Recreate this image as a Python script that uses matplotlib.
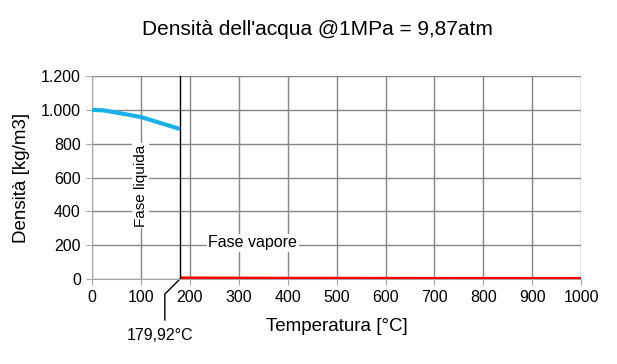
import matplotlib
matplotlib.use("Agg")
import matplotlib.pyplot as plt
from matplotlib.ticker import FuncFormatter

plt.rcParams["font.family"] = ["Liberation Sans", "DejaVu Sans"]

# liquid phase (kg/m3)
liq_t = [0, 25, 100, 179.92]
liq_rho = [1000.0, 997.0, 958.0, 887.0]

# vapour phase (kg/m3)
vap_t = [179.92, 200, 300, 400, 500, 600, 700, 800, 900, 1000]
vap_rho = [5.16, 4.85, 3.88, 3.26, 2.83, 2.50, 2.24, 2.03, 1.86, 1.71]

t_sat = 179.92
x_ticks = list(range(0, 1001, 100))
y_ticks = list(range(0, 1201, 200))

fig = plt.figure(figsize=(6.17, 3.64), dpi=100)
ax = fig.add_axes([0.149, 0.2335, 0.793, 0.5575])

ax.plot(liq_t, liq_rho, color="#1bb0ea", linewidth=3, solid_capstyle="butt", zorder=3)
ax.plot(vap_t, vap_rho, color="#ff0000", linewidth=2.5, solid_capstyle="butt", zorder=3)
ax.plot([t_sat, t_sat], [0, 1200], color="black", linewidth=1, zorder=4)

ax.set_xlim(0, 1000)
ax.set_ylim(0, 1200)
ax.set_xticks(x_ticks)
ax.set_yticks(y_ticks)
ax.yaxis.set_major_formatter(FuncFormatter(lambda v, p: f"{int(v):,}".replace(",", ".")))
ax.grid(True, color="#868686", linewidth=1, zorder=1)
ax.set_axisbelow(True)
for side in ("top", "right"):
    ax.spines[side].set_visible(False)
for side in ("left", "bottom"):
    ax.spines[side].set_color("#a6a6a6")
ax.tick_params(axis="both", length=4, color="#a6a6a6", labelsize=11.5, pad=4)

ax.set_xlabel("Temperatura [°C]", fontsize=13.5, labelpad=9)
ax.set_ylabel("Densità [kg/m3]", fontsize=13.5, labelpad=8)
fig.suptitle("Densità dell'acqua @1MPa = 9,87atm", fontsize=15, x=0.514, y=0.945)

ax.text(100, 550, "Fase liquida", rotation=90, ha="center", va="center", fontsize=11,
        bbox=dict(facecolor="white", edgecolor="none", pad=1), zorder=5)
ax.text(329, 213, "Fase vapore", ha="center", va="center", fontsize=11.5,
        bbox=dict(facecolor="white", edgecolor="none", pad=1), zorder=5)

# leader line for saturation temperature
ax.plot([t_sat, 149, 149], [0, -89, -242], color="black", linewidth=1, clip_on=False)
ax.text(139, -290, "179,92°C", ha="center", va="top", fontsize=11.5, clip_on=False)

fig.savefig("out.png", dpi=100)
